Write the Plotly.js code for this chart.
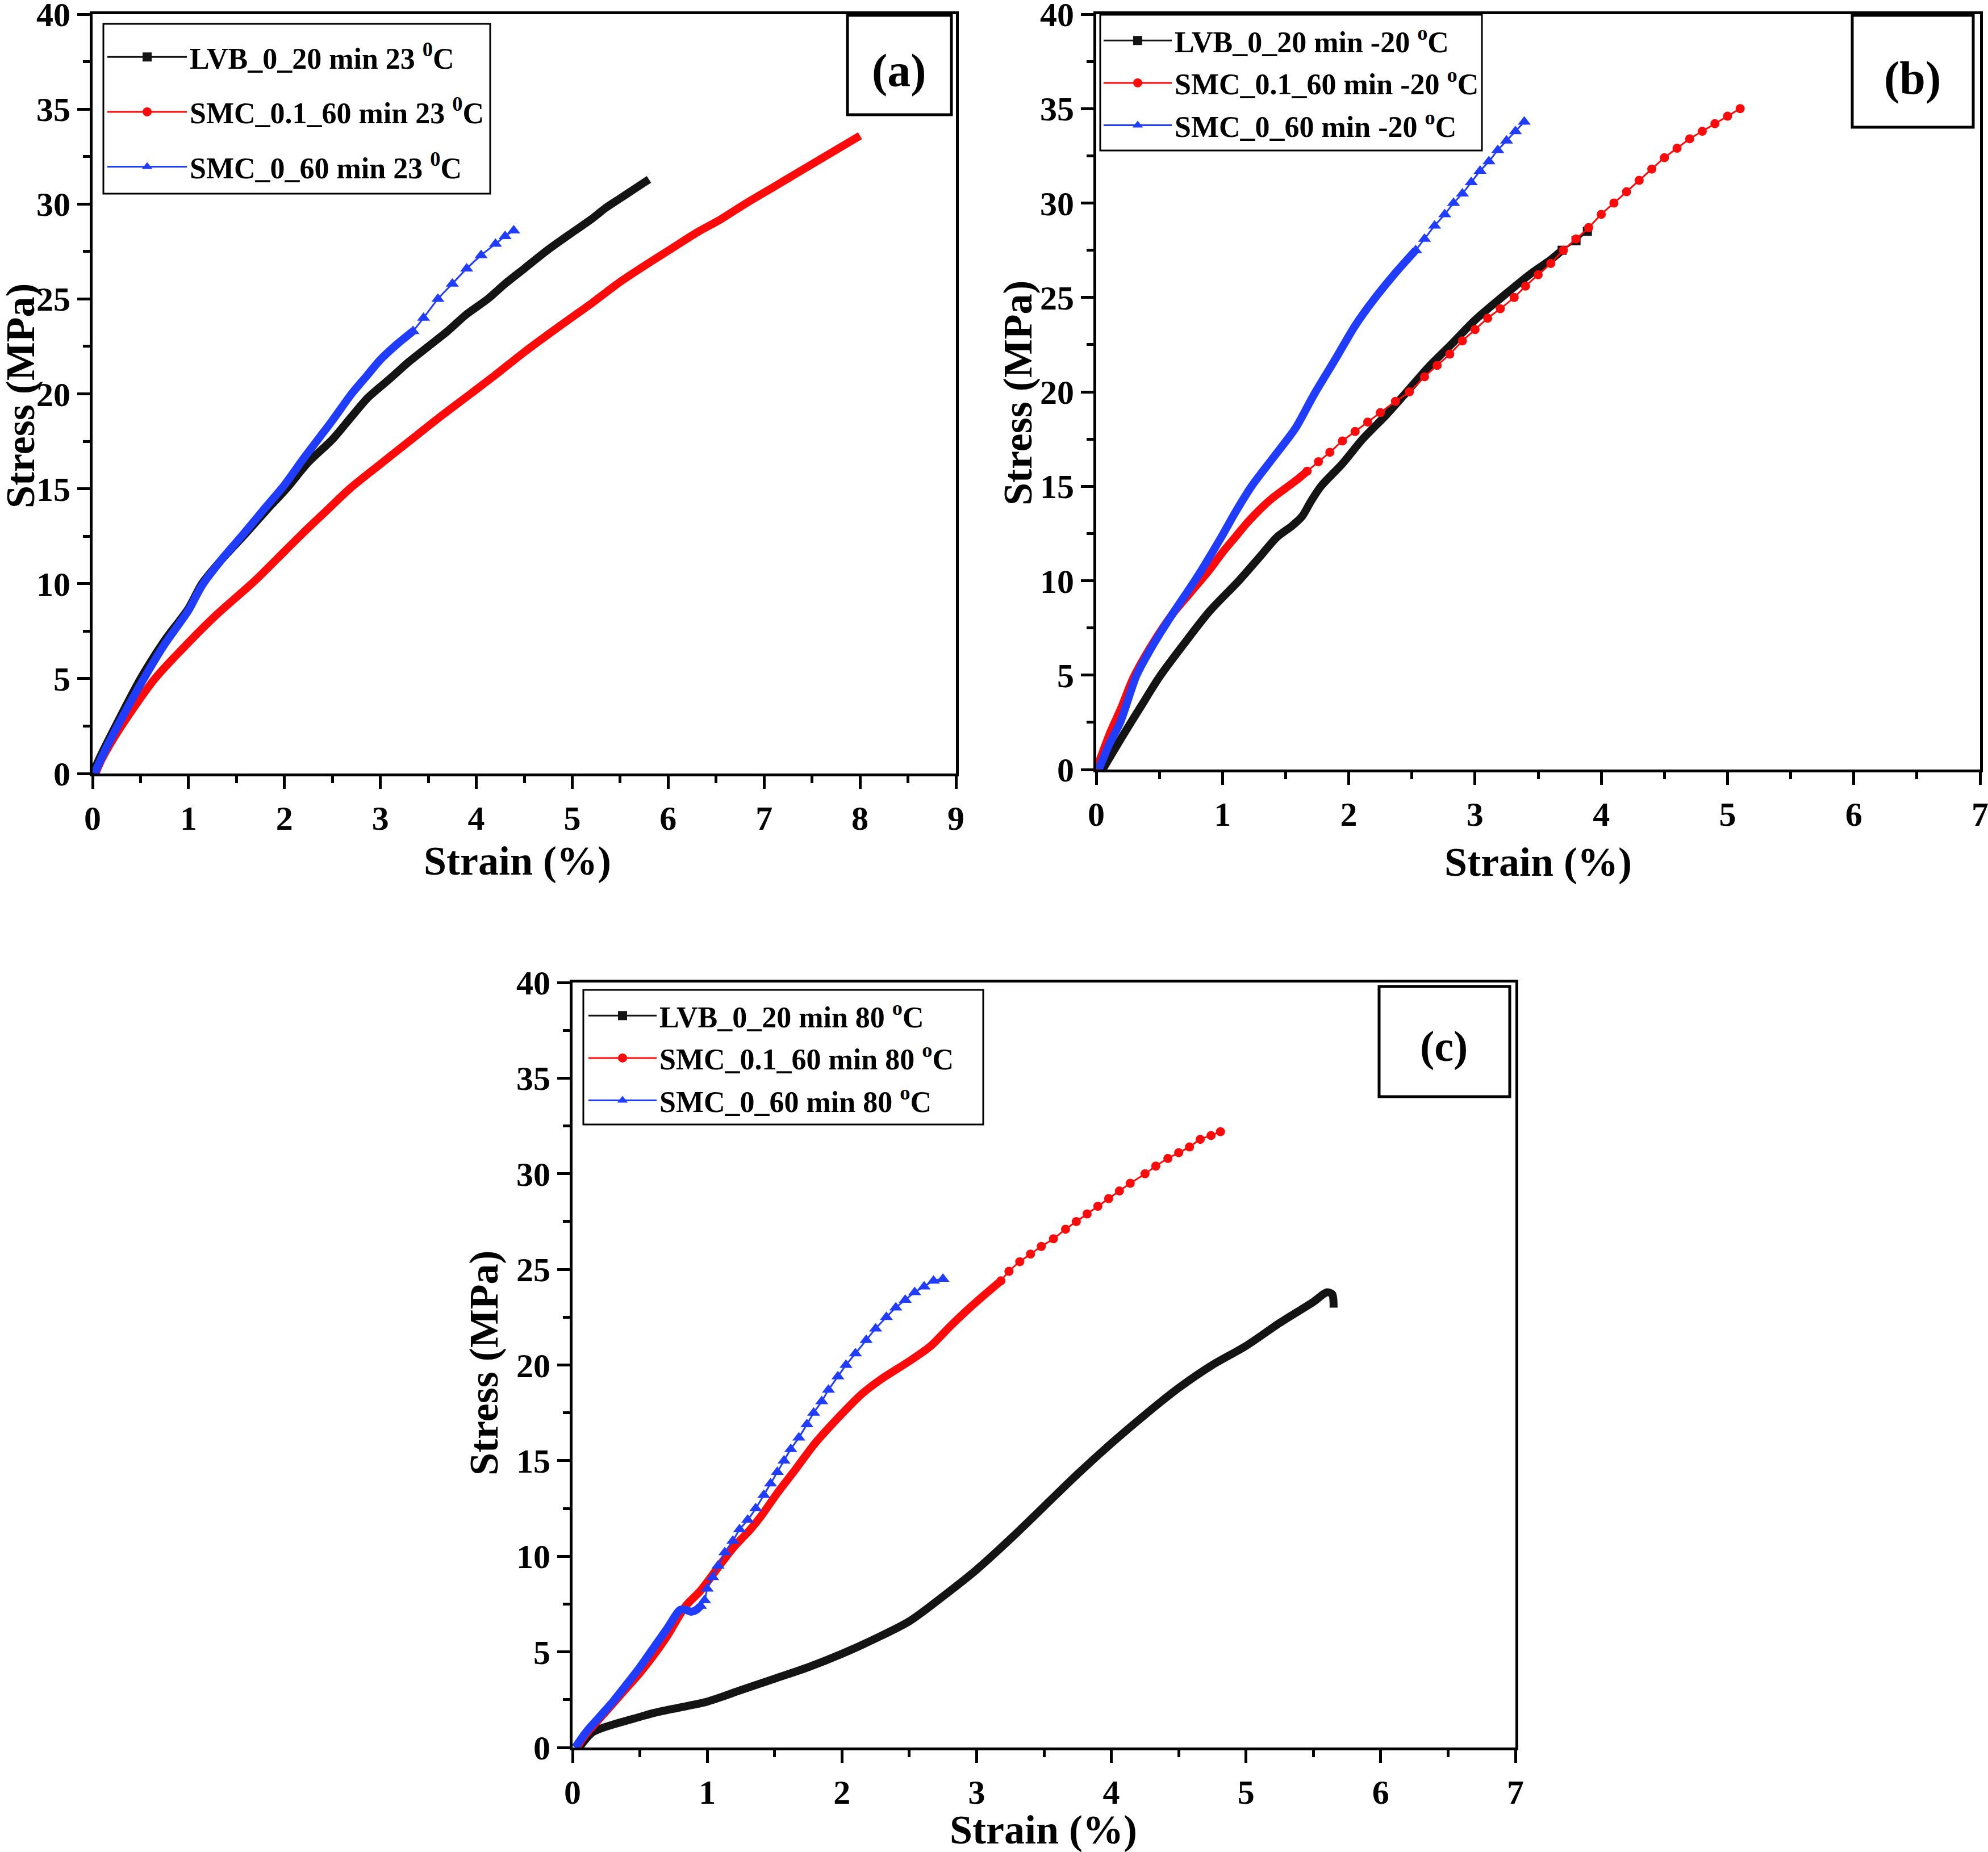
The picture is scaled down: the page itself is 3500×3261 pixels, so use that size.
<!DOCTYPE html>
<html><head><meta charset="utf-8">
<script src="https://cdn.plot.ly/plotly-3.0.1.min.js"></script>
<style>html,body{margin:0;padding:0;background:#fff}#chart{width:3500px;height:3261px}</style>
</head><body><div id="chart"></div>
<script>
// ---------------- DATA ----------------
// Panel (a) 23 °C
const a_lvb_x = [0, 0.1, 0.25, 0.5, 0.75, 1.0, 1.14, 1.35, 1.57, 1.8, 2.02, 2.25, 2.5, 2.7, 2.87, 3.1, 3.3, 3.5, 3.7, 3.9, 4.12, 4.3, 4.5, 4.75, 5.0, 5.2, 5.35, 5.5, 5.65, 5.8];
const a_lvb_y = [0, 1.1, 2.6, 5.0, 7.0, 8.7, 10.0, 11.3, 12.5, 13.8, 15.0, 16.4, 17.6, 18.8, 19.8, 20.8, 21.7, 22.5, 23.3, 24.2, 25.0, 25.8, 26.6, 27.6, 28.5, 29.2, 29.8, 30.3, 30.8, 31.3];
const a_smc01_x = [0.03, 0.1, 0.3, 0.65, 1.0, 1.3, 1.68, 2.0, 2.2, 2.45, 2.68, 3.0, 3.3, 3.6, 3.94, 4.2, 4.5, 4.85, 5.21, 5.5, 5.8, 6.05, 6.3, 6.55, 6.8, 7.1, 7.4, 7.7, 8.0];
const a_smc01_y = [0, 0.8, 2.5, 5.0, 6.9, 8.4, 10.1, 11.7, 12.7, 13.9, 15.0, 16.3, 17.5, 18.7, 20.0, 21.0, 22.2, 23.5, 24.8, 25.9, 26.9, 27.7, 28.5, 29.2, 30.0, 30.9, 31.8, 32.7, 33.6];
const a_smc0_x = [0.02, 0.1, 0.25, 0.5, 0.75, 1.0, 1.14, 1.35, 1.57, 1.8, 2.0, 2.2, 2.35, 2.5, 2.7, 2.85, 3.0, 3.17, 3.34, 3.45, 3.6, 3.75, 3.9, 4.05, 4.2, 4.3, 4.39];
const a_smc0_y = [0, 0.9, 2.4, 4.7, 6.8, 8.6, 9.9, 11.3, 12.6, 14.0, 15.2, 16.6, 17.6, 18.6, 20.0, 20.9, 21.8, 22.6, 23.3, 24.0, 25.0, 25.8, 26.6, 27.3, 27.9, 28.3, 28.6];

// Panel (b) -20 °C
const b_lvb_x = [0.05, 0.22, 0.35, 0.5, 0.7, 0.9, 1.13, 1.3, 1.43, 1.55, 1.63, 1.7, 1.78, 1.95, 2.11, 2.3, 2.46, 2.63, 2.81, 3.0, 3.21, 3.45, 3.6, 3.69, 3.8, 3.89];
const b_lvb_y = [0, 1.9, 3.3, 4.9, 6.7, 8.4, 10.0, 11.3, 12.3, 12.9, 13.4, 14.2, 15.0, 16.2, 17.5, 18.8, 20.0, 21.3, 22.5, 23.8, 25.0, 26.3, 27.0, 27.5, 28.0, 28.5];
const b_smc01_x = [0, 0.05, 0.11, 0.2, 0.29, 0.45, 0.6, 0.75, 0.9, 1.0, 1.1, 1.2, 1.3, 1.4, 1.5, 1.6, 1.67, 1.76, 1.85, 1.95, 2.05, 2.15, 2.25, 2.37, 2.48, 2.6, 2.7, 2.8, 2.9, 3.0, 3.1, 3.2, 3.31, 3.4, 3.5, 3.6, 3.7, 3.8, 3.9, 4.0, 4.1, 4.2, 4.3, 4.4, 4.5, 4.6, 4.7, 4.8, 4.9, 5.0, 5.1];
const b_smc01_y = [0, 0.9, 1.95, 3.3, 4.8, 6.7, 8.2, 9.4, 10.6, 11.5, 12.3, 13.1, 13.8, 14.4, 14.9, 15.4, 15.8, 16.3, 16.8, 17.4, 17.9, 18.4, 18.9, 19.5, 20.0, 20.8, 21.4, 22.0, 22.7, 23.3, 23.9, 24.4, 25.0, 25.6, 26.2, 26.8, 27.5, 28.1, 28.7, 29.4, 30.0, 30.6, 31.2, 31.8, 32.4, 32.9, 33.4, 33.8, 34.2, 34.6, 35.0];
const b_smc0_x = [0.02, 0.1, 0.19, 0.32, 0.45, 0.6, 0.8, 0.99, 1.1, 1.23, 1.4, 1.58, 1.72, 1.9, 2.05, 2.2, 2.37, 2.53, 2.6, 2.68, 2.76, 2.83, 2.9, 2.97, 3.04, 3.11, 3.18, 3.25, 3.32, 3.39];
const b_smc0_y = [0, 1.3, 2.5, 5.0, 6.6, 8.2, 10.2, 12.3, 13.6, 15.0, 16.5, 18.1, 19.8, 21.8, 23.5, 24.9, 26.3, 27.5, 28.1, 28.8, 29.4, 30.0, 30.5, 31.1, 31.7, 32.2, 32.8, 33.3, 33.8, 34.3];

// Panel (c) 80 °C
const c_lvb_x = [0.05, 0.15, 0.3, 0.5, 0.6, 0.8, 1.0, 1.25, 1.5, 1.75, 2.0, 2.25, 2.5, 2.75, 3.0, 3.25, 3.5, 3.75, 4.0, 4.25, 4.5, 4.75, 5.0, 5.25, 5.5, 5.6, 5.64, 5.65];
const c_lvb_y = [0, 0.8, 1.2, 1.6, 1.8, 2.1, 2.4, 3.0, 3.6, 4.2, 4.9, 5.7, 6.6, 7.9, 9.3, 10.9, 12.6, 14.3, 15.9, 17.4, 18.8, 20.0, 21.0, 22.2, 23.3, 23.8, 23.7, 23.0];
const c_smc01_x = [0.03, 0.1, 0.2, 0.3, 0.4, 0.5, 0.6, 0.7, 0.84, 0.95, 1.1, 1.2, 1.32, 1.4, 1.52, 1.64, 1.8, 1.98, 2.15, 2.3, 2.5, 2.66, 2.8, 2.95, 3.08, 3.18, 3.24, 3.32, 3.4, 3.48, 3.57, 3.66, 3.74, 3.82, 3.9, 3.98, 4.06, 4.14, 4.25, 4.33, 4.42, 4.5, 4.58, 4.66, 4.74, 4.81];
const c_smc01_y = [0, 0.7, 1.5, 2.3, 3.1, 3.9, 4.8, 5.8, 7.4, 8.2, 9.6, 10.5, 11.4, 12.1, 13.3, 14.4, 15.9, 17.3, 18.5, 19.3, 20.2, 21.0, 22.0, 23.0, 23.8, 24.4, 24.9, 25.4, 25.8, 26.2, 26.6, 27.1, 27.5, 27.9, 28.3, 28.7, 29.1, 29.5, 30.0, 30.4, 30.8, 31.1, 31.4, 31.8, 32.0, 32.2];
const c_smc0_x = [0.02, 0.1, 0.2, 0.3, 0.39, 0.5, 0.6, 0.7, 0.8, 0.84, 0.88, 0.92, 0.95, 0.98, 1.0, 1.04, 1.08, 1.13, 1.19, 1.24, 1.3, 1.36, 1.42, 1.47, 1.52, 1.57, 1.62, 1.68, 1.74, 1.79, 1.85, 1.9, 1.97, 2.03, 2.1, 2.18, 2.25, 2.33, 2.4, 2.47, 2.54, 2.61, 2.68, 2.75];
const c_smc0_y = [0, 0.8, 1.6, 2.4, 3.2, 4.2, 5.2, 6.2, 7.2, 7.2, 7.1, 7.2, 7.4, 7.7, 8.3, 8.9, 9.5, 10.2, 10.8, 11.4, 11.9, 12.5, 13.2, 13.8, 14.4, 15.0, 15.6, 16.2, 16.9, 17.5, 18.1, 18.7, 19.4, 20.0, 20.6, 21.3, 21.9, 22.5, 23.0, 23.4, 23.8, 24.1, 24.4, 24.5];

// Labels
const a_names = ['LVB_0_20 min 23 <sup>0</sup>C', 'SMC_0.1_60 min 23 <sup>0</sup>C', 'SMC_0_60 min 23 <sup>0</sup>C'];
const b_names = ['LVB_0_20 min -20 <sup>o</sup>C', 'SMC_0.1_60 min -20 <sup>o</sup>C', 'SMC_0_60 min -20 <sup>o</sup>C'];
const c_names = ['LVB_0_20 min 80 <sup>o</sup>C', 'SMC_0.1_60 min 80 <sup>o</sup>C', 'SMC_0_60 min 80 <sup>o</sup>C'];
const panel_labels = ['(a)', '(b)', '(c)'];
const x_title = 'Strain (%)';
const y_title = 'Stress (MPa)';

// ---------------- STYLE ----------------
const W = 3500, H = 3261;
const FONT = 'Liberation Serif, "Times New Roman", serif';
const COL = {lvb: '#141414', smc01: '#ff0a0a', smc0: '#1f3cff'};
const SYM = {lvb: 'square', smc01: 'circle', smc0: 'triangle-up'};
const px = v => v / W;
const py = v => 1 - v / H;

const traces = [];
function addSeries(xs, ys, split, key, xa, ya) {
  const dx = [], dy = [], sx = [], sy = [];
  xs.forEach((v, i) => {
    if (v <= split) { dx.push(v); dy.push(ys[i]); }
    if (v >= split) { sx.push(v); sy.push(ys[i]); }
  });
  const msz = key === 'smc0' ? 20 : 16;
  traces.push({type: 'scatter', mode: 'lines', x: dx, y: dy, xaxis: xa, yaxis: ya,
    line: {color: COL[key], width: 14, shape: 'spline', smoothing: 0.8}, showlegend: false, hoverinfo: 'skip'});
  if (sx.length > 1) {
    traces.push({type: 'scatter', mode: 'lines+markers', x: sx, y: sy, xaxis: xa, yaxis: ya,
      line: {color: COL[key], width: 3, shape: 'spline', smoothing: 0.8}, marker: {symbol: SYM[key], size: msz, color: COL[key]},
      showlegend: false, hoverinfo: 'skip'});
  }
}
function addLegend(name, key, xa, ya, leg, grp) {
  traces.push({type: 'scatter', mode: 'lines+markers', x: [null], y: [null], xaxis: xa, yaxis: ya,
    name: name, legend: leg, legendgroup: grp,
    line: {color: COL[key], width: 3}, marker: {symbol: SYM[key], size: key === 'smc0' ? 18 : 16, color: COL[key]}});
}

// panel a
addSeries(a_lvb_x, a_lvb_y, 99, 'lvb', 'x', 'y');
addSeries(a_smc01_x, a_smc01_y, 99, 'smc01', 'x', 'y');
addSeries(a_smc0_x, a_smc0_y, 3.34, 'smc0', 'x', 'y');
// panel b
addSeries(b_lvb_x, b_lvb_y, 3.69, 'lvb', 'x2', 'y2');
addSeries(b_smc01_x, b_smc01_y, 1.67, 'smc01', 'x2', 'y2');
addSeries(b_smc0_x, b_smc0_y, 2.53, 'smc0', 'x2', 'y2');
// panel c
addSeries(c_lvb_x, c_lvb_y, 99, 'lvb', 'x3', 'y3');
addSeries(c_smc01_x, c_smc01_y, 3.18, 'smc01', 'x3', 'y3');
addSeries(c_smc0_x, c_smc0_y, 0.95, 'smc0', 'x3', 'y3');

const keys = ['lvb', 'smc01', 'smc0'];
keys.forEach((k, i) => addLegend(a_names[i], k, 'x', 'y', 'legend', 'a' + i));
keys.forEach((k, i) => addLegend(b_names[i], k, 'x2', 'y2', 'legend2', 'b' + i));
keys.forEach((k, i) => addLegend(c_names[i], k, 'x3', 'y3', 'legend3', 'c' + i));

const tickfont = {family: FONT, size: 60, weight: 700, color: '#000'};
function axis(domain, range, dtick, minor, anchor) {
  return {domain: domain, range: range, tick0: 0, dtick: dtick, anchor: anchor,
    showline: true, linecolor: '#000', linewidth: 5, mirror: true,
    ticks: 'outside', ticklen: 22, tickwidth: 5, tickcolor: '#000', ticklabeloverflow: 'allow',
    showgrid: false, zeroline: false, tickfont: tickfont, fixedrange: true,
    minor: {dtick: minor, tick0: 0, ticks: 'outside', ticklen: 12, tickwidth: 5, tickcolor: '#000', showgrid: false}};
}

const legFont = {family: FONT, size: 52, weight: 700, color: '#000'};
function legend(x, y, iw, gap) {
  return {x: x, y: y, xanchor: 'left', yanchor: 'top', bgcolor: 'rgba(0,0,0,0)', borderwidth: 0,
    font: legFont, itemwidth: iw, traceorder: 'grouped', tracegroupgap: gap, itemclick: false, itemdoubleclick: false};
}

const titleFont = {family: FONT, size: 72, weight: 700, color: '#000'};
const yTitleFont = {family: FONT, size: 72, weight: 700, color: '#000'};
function ann(text, x, y, font, angle) {
  return {text: text, x: px(x), y: py(y), xref: 'paper', yref: 'paper', xanchor: 'center', yanchor: 'middle',
    showarrow: false, font: font, textangle: angle || 0};
}
function rect(x0, y0, x1, y1, w) {
  return {type: 'rect', xref: 'paper', yref: 'paper', x0: px(x0), x1: px(x1), y0: py(y1), y1: py(y0),
    line: {color: '#000', width: w}, fillcolor: 'rgba(0,0,0,0)', layer: 'above'};
}
const labelFont = {family: FONT, size: 82, weight: 700, color: '#000'};

const layout = {
  width: W, height: H, margin: {l: 0, r: 0, t: 0, b: 0}, paper_bgcolor: '#fff', plot_bgcolor: '#fff',
  xaxis: axis([px(163), px(1683)], [0, 9], 1, 0.5, 'y'),
  yaxis: axis([py(1362), py(25)], [0, 40], 5, 2.5, 'x'),
  xaxis2: axis([px(1930), px(3486)], [0, 7], 1, 0.5, 'y2'),
  yaxis2: axis([py(1355), py(25)], [0, 40], 5, 2.5, 'x2'),
  xaxis3: axis([px(1008), px(2668)], [0, 7], 1, 0.5, 'y3'),
  yaxis3: axis([py(3077), py(1730)], [0, 40], 5, 2.5, 'x3'),
  legend: legend(px(184), py(60), 140, 26),
  legend2: legend(px(1938), py(31), 120, 4),
  legend3: legend(px(1031), py(1748), 120, 4),
  shapes: [
    rect(182, 42, 863, 341, 3), rect(1937, 26, 2609, 265, 3), rect(1027, 1743, 1731, 1980, 3),
    rect(1492, 27, 1675, 202, 5), rect(3261, 27, 3474, 224, 5), rect(2428, 1737, 2658, 1931, 5)
  ],
  annotations: [
    ann(x_title, 911, 1516, titleFont), ann(y_title, 36, 697, yTitleFont, -90),
    ann(x_title, 2708, 1518, titleFont), ann(y_title, 1792, 692, yTitleFont, -90),
    ann(x_title, 1837, 3222, titleFont), ann(y_title, 852, 2400, yTitleFont, -90),
    ann(panel_labels[0], 1583, 124, labelFont), ann(panel_labels[1], 3367, 137, labelFont),
    ann(panel_labels[2], 2542, 1842, {family: FONT, size: 76, weight: 700, color: '#000'})
  ],
  showlegend: true
};

Plotly.newPlot('chart', traces, layout, {staticPlot: true, displayModeBar: false});
</script></body></html>
